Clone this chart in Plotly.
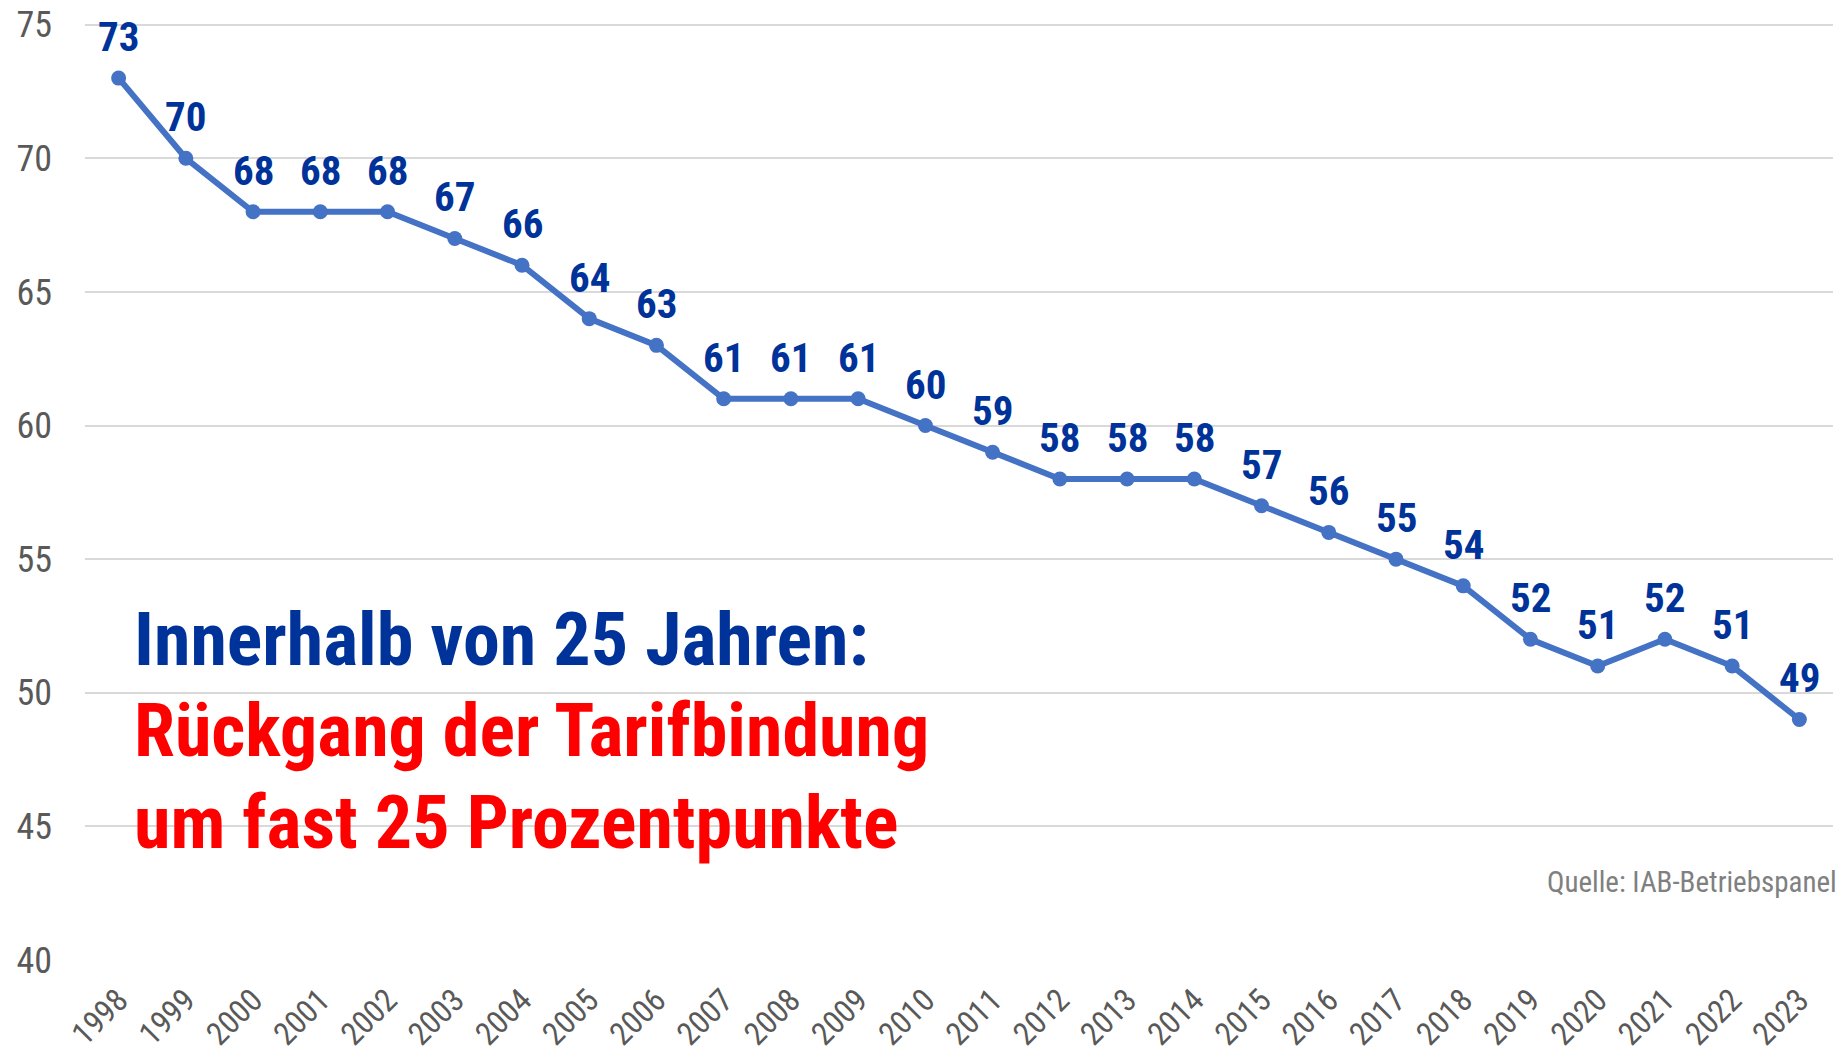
import plotly.graph_objects as go

years = [str(y) for y in range(1998, 2024)]
values = [73, 70, 68, 68, 68, 67, 66, 64, 63, 61, 61, 61, 60, 59, 58, 58, 58,
          57, 56, 55, 54, 52, 51, 52, 51, 49]
y_ticks = [40, 45, 50, 55, 60, 65, 70, 75]

FONT = "Liberation Sans Narrow, Arial Narrow, Roboto Condensed, Liberation Sans, sans-serif"
LINE_BLUE = "#4472C4"
LABEL_BLUE = "#003399"

fig = go.Figure()
fig.add_trace(go.Scatter(
    x=years, y=values, mode="lines+markers",
    line=dict(color=LINE_BLUE, width=6),
    marker=dict(color=LINE_BLUE, size=15),
    cliponaxis=False, hoverinfo="x+y", showlegend=False,
))

annotations = []
for i, v in enumerate(values):
    annotations.append(dict(
        x=i, y=v, xref="x", yref="y", text=str(v), showarrow=False,
        yanchor="middle", xanchor="center", yshift=41,
        font=dict(family=FONT, size=41, color=LABEL_BLUE, weight="bold"),
    ))

big_lines = [
    ("Innerhalb von 25 Jahren:", LABEL_BLUE, 0.342),
    ("Rückgang der Tarifbindung", "#FF0000", 0.245),
    ("um fast 25 Prozentpunkte", "#FF0000", 0.1465),
]
for txt, col, yy in big_lines:
    annotations.append(dict(
        x=0.027, y=yy, xref="paper", yref="paper", text=txt, showarrow=False,
        xanchor="left", yanchor="middle",
        font=dict(family=FONT, size=74, color=col, weight="bold"),
    ))

annotations.append(dict(
    x=1.0, y=0.083, xref="paper", yref="paper", text="Quelle: IAB-Betriebspanel",
    showarrow=False, xanchor="right", yanchor="middle", xshift=6,
    font=dict(family=FONT, size=29, color="#808080"),
))

fig.update_layout(
    width=1837, height=1047,
    margin=dict(l=77, r=12, t=14, b=95),
    paper_bgcolor="white", plot_bgcolor="white",
    annotations=annotations,
    font=dict(family=FONT),
)
fig.update_xaxes(
    type="category", range=[-0.5, 25.5], showgrid=False, showline=False,
    zeroline=False, tickangle=-45, ticklabelstandoff=14, automargin=False,
    ticklabeloverflow="allow",
    tickfont=dict(family=FONT, size=32, color="#595959"),
)
fig.update_yaxes(
    range=[40, 75.1], tickvals=y_ticks, showgrid=True, gridcolor="#D9D9D9",
    gridwidth=2, zeroline=False, showline=False, ticklabelstandoff=32,
    automargin=False, ticklabeloverflow="allow",
    tickfont=dict(family=FONT, size=36, color="#595959"),
)

fig.write_html("out.html")
